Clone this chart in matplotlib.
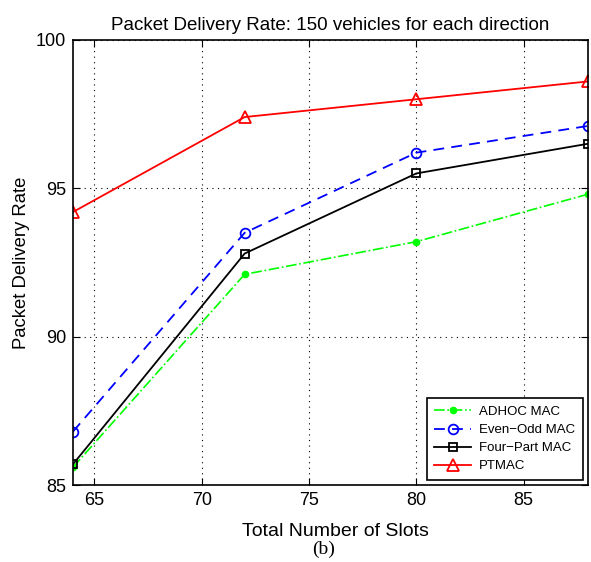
import numpy as np
import matplotlib.pyplot as plt

plt.rcParams['font.family'] = ['Liberation Sans', 'DejaVu Sans']

slots = [64, 72, 80, 88]
adhoc = [85.6, 92.1, 93.2, 94.8]
even_odd = [86.8, 93.5, 96.2, 97.1]
four_part = [85.7, 92.8, 95.5, 96.5]
ptmac = [94.2, 97.4, 98.0, 98.6]

fig = plt.figure(figsize=(5.91, 5.62), dpi=100)
ax = fig.add_axes([0.1235, 0.137, 0.8714, 0.792])

ax.plot(slots, adhoc, color='#00ff00', linestyle='-.', marker='o', markersize=4.5,
        linewidth=1.2, label='ADHOC MAC')
ax.plot(slots, even_odd, color='blue', linestyle=(0, (6, 4)), marker='o', markersize=7,
        markerfacecolor='none', markeredgewidth=1.3, linewidth=1.3, label='Even\u2212Odd MAC')
ax.plot(slots, four_part, color='black', linestyle='-', marker='s', markersize=6,
        markerfacecolor='none', markeredgewidth=1.3, linewidth=1.3, label='Four\u2212Part MAC')
ax.plot(slots, ptmac, color='red', linestyle='-', marker='^', markersize=8,
        markerfacecolor='none', markeredgewidth=1.3, linewidth=1.3, label='PTMAC')

ax.set_xlim(64, 88)
ax.set_ylim(85, 100)
ax.set_xticks([65, 70, 75, 80, 85])
ax.set_yticks([85, 90, 95, 100])
ax.grid(True, linestyle=(0, (1, 4)), color='black', linewidth=0.8)
ax.tick_params(direction='in', top=True, right=True, labelsize=13, length=5, pad=5)
for s in ax.spines.values():
    s.set_linewidth(1.2)

ax.set_title('Packet Delivery Rate: 150 vehicles for each direction', fontsize=13.5, pad=7)
ax.set_xlabel('Total Number of Slots', fontsize=14, labelpad=6)
ax.set_ylabel('Packet Delivery Rate', fontsize=13.3, labelpad=4)
ax.xaxis.set_label_coords(0.51, -0.085)
fig.text(0.547, 0.008, '(b)', ha='center', va='bottom', fontsize=14,
         family='Liberation Serif')

leg = ax.legend(loc='lower right', fontsize=9.5, fancybox=False, framealpha=1,
                edgecolor='black', borderaxespad=0.35, handlelength=2.8,
                handletextpad=0.6, labelspacing=0.45, borderpad=0.6)
leg.get_frame().set_linewidth(1.2)

fig.savefig('out.png', dpi=100)
